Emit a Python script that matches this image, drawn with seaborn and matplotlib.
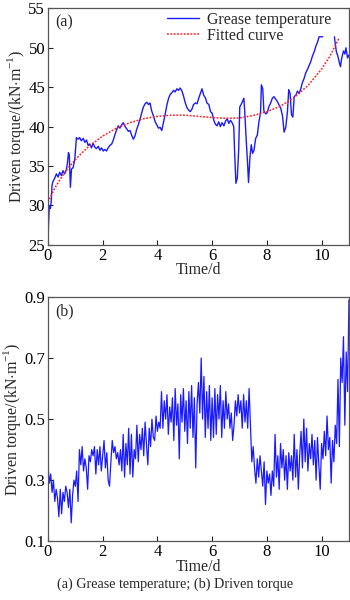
import numpy as np
import pandas as pd
import matplotlib
matplotlib.use("Agg")
import matplotlib.pyplot as plt
import seaborn as sns

# ---- panel (a): grease temperature record and its fitted curve ----
temp_time = [0.00, 0.02, 0.05, 0.09, 0.12, 0.15, 0.18, 0.24, 0.31, 0.37, 0.43, 0.49,
             0.55, 0.61, 0.67, 0.71, 0.75, 0.78, 0.82, 0.86, 0.92, 0.98, 1.04, 1.10,
             1.16, 1.22, 1.29, 1.35, 1.41, 1.47, 1.53, 1.59, 1.65, 1.71, 1.77, 1.84,
             1.90, 1.96, 2.02, 2.08, 2.14, 2.20, 2.26, 2.33, 2.39, 2.45, 2.51, 2.57,
             2.63, 2.69, 2.75, 2.82, 2.88, 2.94, 3.00, 3.06, 3.12, 3.18, 3.24, 3.30,
             3.37, 3.43, 3.49, 3.55, 3.61, 3.67, 3.73, 3.79, 3.86, 3.92, 3.98, 4.04,
             4.10, 4.16, 4.22, 4.28, 4.35, 4.41, 4.47, 4.53, 4.59, 4.65, 4.71, 4.77,
             4.83, 4.90, 4.96, 5.02, 5.08, 5.14, 5.20, 5.26, 5.32, 5.39, 5.45, 5.51,
             5.57, 5.63, 5.69, 5.76, 5.81, 5.88, 5.94, 6.00, 6.06, 6.12, 6.18, 6.24,
             6.30, 6.36, 6.43, 6.49, 6.55, 6.61, 6.67, 6.73, 6.79, 6.83, 6.87, 6.92,
             6.97, 7.01, 7.06, 7.12, 7.16, 7.19, 7.25, 7.30, 7.33, 7.38, 7.43, 7.48,
             7.53, 7.59, 7.65, 7.71, 7.77, 7.80, 7.85, 7.89, 7.96, 8.02, 8.07, 8.14,
             8.20, 8.26, 8.32, 8.38, 8.45, 8.51, 8.57, 8.63, 8.69, 8.75, 8.80, 8.85,
             8.90, 8.95, 9.00, 9.06, 9.12, 9.18, 9.24, 9.30, 9.36, 9.42, 9.49, 9.55,
             9.61, 9.67, 9.73, 9.79, 9.85, 9.91, 10.04,
             10.47, 10.50, 10.54, 10.59, 10.65, 10.69, 10.73, 10.80, 10.85, 10.89,
             10.95, 11.00]
temp_value = [25.0, 27.5, 30.0, 29.6, 30.5, 32.6, 33.0, 33.4, 34.0, 33.6, 34.2, 33.8,
              34.4, 34.0, 34.5, 35.3, 36.7, 36.4, 32.3, 34.6, 34.8, 35.8, 38.6, 38.4,
              38.6, 38.2, 38.5, 38.0, 38.3, 37.6, 37.8, 37.3, 37.9, 37.4, 37.2, 37.5,
              37.0, 37.3, 36.9, 37.1, 36.9, 37.3, 37.6, 37.8, 38.3, 39.0, 39.6, 40.1,
              39.8, 40.2, 40.5, 40.0, 39.7, 39.4, 39.5, 38.9, 38.4, 38.8, 39.6, 40.2,
              41.0, 41.8, 42.5, 42.9, 43.1, 42.8, 43.0, 42.0, 41.3, 40.6, 40.2, 39.8,
              39.9, 39.5, 40.5, 41.5, 42.8, 43.6, 44.1, 44.3, 44.6, 44.4, 44.8, 44.6,
              44.9, 44.5, 43.8, 43.0, 42.4, 42.1, 41.9, 42.2, 42.8, 43.0, 42.9, 43.6,
              44.2, 44.8, 44.0, 43.6, 43.0, 42.8, 41.9, 41.7, 40.8, 40.3, 40.1, 40.6,
              40.0, 40.5, 40.1, 40.7, 41.0, 40.4, 40.8, 40.5, 40.0, 36.0, 32.8, 33.5,
              37.0, 42.5, 42.8, 43.3, 43.6, 42.0, 38.0, 35.0, 32.9, 36.0, 37.7, 36.6,
              37.0, 38.5, 38.9, 40.6, 41.8, 45.3, 44.8, 42.0, 41.6, 41.8, 42.5, 43.0,
              43.6, 43.8, 43.5, 43.2, 42.7, 42.3, 41.4, 39.3, 39.9, 41.8, 44.7, 44.2,
              41.5, 41.2, 43.8, 44.0, 44.5, 44.2, 44.8, 45.6, 46.1, 46.8, 47.3, 47.8,
              48.3, 49.0, 49.5, 50.2, 50.7, 51.4, 51.4,
              51.4, 50.5, 49.5, 49.0, 48.1, 47.6, 48.6, 49.6, 49.2, 50.0,
              48.7, 49.1]
# the record is interrupted between about 10.0 d and 10.5 d
gap_start = 10.2

fit_time = [0.0, 0.25, 0.5, 0.75, 1.0, 1.25, 1.5, 2.0, 2.5, 3.0, 3.5, 4.0, 4.5, 5.0,
            5.5, 6.0, 6.5, 7.0, 7.5, 8.0, 8.5, 9.0, 9.5, 10.0, 10.3, 10.65]
fit_value = [30.4, 32.2, 33.6, 34.8, 35.8, 36.7, 37.5, 38.8, 39.8, 40.5, 41.0, 41.3,
             41.45, 41.45, 41.3, 41.15, 41.05, 41.1, 41.4, 41.9, 42.6, 43.7, 45.2,
             47.3, 48.9, 51.3]

# ---- panel (b): driven torque, sampled every 0.05 d ----
torque_start, torque_step = 0.0, 0.05
torque_value = [
    0.35, 0.29, 0.32, 0.26, 0.30, 0.23, 0.27, 0.24, 0.18, 0.27,
    0.19, 0.26, 0.23, 0.28, 0.26, 0.21, 0.27, 0.16, 0.25, 0.30,
    0.28, 0.33, 0.23, 0.40, 0.35, 0.41, 0.33, 0.37, 0.34, 0.27,
    0.38, 0.36, 0.40, 0.38, 0.41, 0.32, 0.40, 0.35, 0.41, 0.33,
    0.38, 0.43, 0.34, 0.39, 0.30, 0.28, 0.36, 0.43, 0.39, 0.41,
    0.37, 0.39, 0.35, 0.40, 0.33, 0.45, 0.31, 0.42, 0.35, 0.47,
    0.32, 0.45, 0.31, 0.40, 0.37, 0.48, 0.36, 0.45, 0.40, 0.47,
    0.38, 0.49, 0.42, 0.35, 0.47, 0.41, 0.50, 0.44, 0.43, 0.51,
    0.46, 0.49, 0.47, 0.59, 0.47, 0.56, 0.50, 0.58, 0.45, 0.54,
    0.49, 0.57, 0.43, 0.60, 0.48, 0.55, 0.37, 0.58, 0.49, 0.60,
    0.46, 0.56, 0.42, 0.59, 0.47, 0.61, 0.44, 0.57, 0.34, 0.55,
    0.62, 0.52, 0.70, 0.50, 0.64, 0.44, 0.59, 0.47, 0.61, 0.43,
    0.57, 0.44, 0.60, 0.45, 0.58, 0.50, 0.61, 0.44, 0.56, 0.47,
    0.59, 0.50, 0.55, 0.47, 0.52, 0.43, 0.48, 0.56, 0.51, 0.58,
    0.52, 0.56, 0.47, 0.58, 0.49, 0.56, 0.47, 0.60, 0.48, 0.36,
    0.41, 0.34, 0.29, 0.37, 0.31, 0.38, 0.33, 0.28, 0.36, 0.22,
    0.33, 0.29, 0.32, 0.25, 0.33, 0.28, 0.45, 0.31, 0.38, 0.27,
    0.42, 0.34, 0.40, 0.30, 0.38, 0.27, 0.39, 0.33, 0.38, 0.30,
    0.45, 0.31, 0.40, 0.27, 0.38, 0.46, 0.34, 0.50, 0.36, 0.47,
    0.33, 0.42, 0.37, 0.45, 0.35, 0.43, 0.30, 0.44, 0.35, 0.27,
    0.42, 0.37, 0.46, 0.38, 0.51, 0.40, 0.44, 0.29, 0.43, 0.36,
    0.48, 0.42, 0.63, 0.41, 0.70, 0.62, 0.77, 0.48, 0.72, 0.59,
    0.89]
torque_time = torque_start + torque_step * np.arange(len(torque_value))

x_ticks = [0, 2, 4, 6, 8, 10]
temp_ticks = [25, 30, 35, 40, 45, 50, 55]
torque_ticks = [0.1, 0.3, 0.5, 0.7, 0.9]

sns.set_theme(style="ticks")
plt.rcParams["font.family"] = ["Liberation Serif", "DejaVu Serif"]
plt.rcParams["mathtext.fontset"] = "custom"
plt.rcParams["mathtext.rm"] = "Liberation Serif"

BLUE = "#1a1aff"
RED = "#ff2020"
FS_TICK = 12.0
FS_LABEL = 11.4

fig = plt.figure(figsize=(3.5, 6.0), dpi=100)
ax1 = fig.add_axes([0.137, 0.592, 0.860, 0.394])
ax2 = fig.add_axes([0.137, 0.098, 0.860, 0.407])

temp_df = pd.DataFrame({"t": temp_time, "v": temp_value})
temp_df["seg"] = (temp_df["t"] > gap_start).astype(int)
fit_df = pd.DataFrame({"t": fit_time, "v": fit_value})
torque_df = pd.DataFrame({"t": torque_time, "v": torque_value})

sns.lineplot(data=temp_df, x="t", y="v", units="seg", estimator=None, ax=ax1,
             color=BLUE, lw=1.0)
temp_handle = ax1.lines[0]
sns.lineplot(data=fit_df, x="t", y="v", ax=ax1, color=RED, lw=1.1,
             linestyle=(0, (1.2, 1.0)))
fit_handle = ax1.lines[-1]
sns.lineplot(data=torque_df, x="t", y="v", ax=ax2, color=BLUE, lw=0.9)

ylabel = r"Driven torque/(kN$\cdot$m$^{-1}$)"
for ax, ticks, lim in ((ax1, temp_ticks, (25, 55)), (ax2, torque_ticks, (0.1, 0.9))):
    ax.set_xlim(0, 11)
    ax.set_ylim(*lim)
    ax.set_xticks(x_ticks)
    ax.set_yticks(ticks)
    ax.tick_params(direction="in", length=3.5, width=0.8, labelsize=FS_TICK, pad=2,
                   colors="#222222", labelcolor="black")
    for s in ax.spines.values():
        s.set_color("#555555")
        s.set_linewidth(0.9)
    ax.set_xlabel("Time/d", fontsize=FS_LABEL, labelpad=-1)
    ax.set_ylabel(ylabel, fontsize=FS_LABEL, labelpad=1)

ax2.set_yticklabels([f"{v:.1f}" for v in torque_ticks])

ax1.text(0.025, 0.975, "(a)", transform=ax1.transAxes, ha="left", va="top",
         fontsize=FS_LABEL)
ax2.text(0.025, 0.975, "(b)", transform=ax2.transAxes, ha="left", va="top",
         fontsize=FS_LABEL)

ax1.legend([temp_handle, fit_handle], ["Grease temperature", "Fitted curve"],
           loc="upper left", bbox_to_anchor=(0.37, 1.02), frameon=False,
           fontsize=FS_LABEL, handlelength=2.0, handletextpad=0.5,
           labelspacing=0.0, borderaxespad=0.1)

fig.text(0.5, 0.026, "(a) Grease temperature; (b) Driven torque", ha="center",
         va="center", fontsize=10.2)

fig.savefig("out.png", dpi=100)
